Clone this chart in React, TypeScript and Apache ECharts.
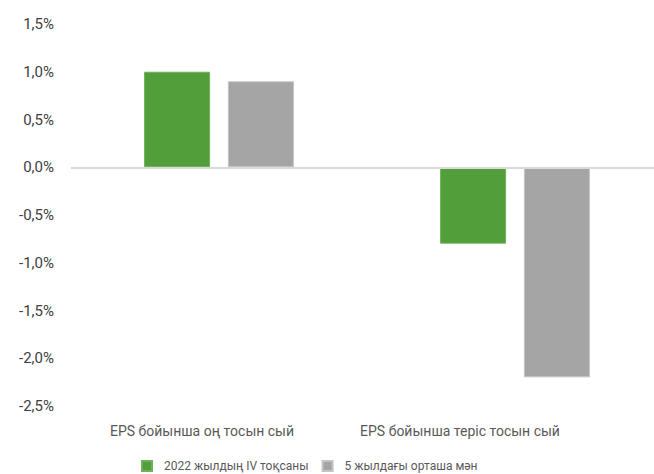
import React, { useEffect, useRef } from "react";
import * as echarts from "echarts";

const categories = ["EPS бойынша оң тосын сый", "EPS бойынша теріс тосын сый"];
const seriesNames = ["2022 жылдың IV тоқсаны", "5 жылдағы орташа мән"];
const q4Values = [1.0, -0.8];
const avgValues = [0.9, -2.2];

const FONT = "Roboto, 'Noto Sans', sans-serif";

export default function App() {
  const ref = useRef<HTMLDivElement>(null);

  useEffect(() => {
    if (!ref.current) return;
    const chart = echarts.init(ref.current, null, { renderer: "svg" });
    chart.setOption({
      animation: false,
      backgroundColor: "#ffffff",
      textStyle: { fontFamily: FONT },
      grid: [
        // plot area for the bars (runs a little past the visible right edge)
        { left: 71, top: 24, right: 0, height: 382, containLabel: false },
        // label band for the category names, set slightly left of the bars
        { left: 73, top: 24, width: 516, height: 382, containLabel: false },
      ],
      legend: {
        left: 141,
        top: 460,
        padding: 0,
        itemWidth: 10,
        itemHeight: 10,
        itemGap: 13,
        icon: "rect",
        textStyle: { fontSize: 12, color: "#595959", fontFamily: FONT, padding: [0, 0, 0, 7] },
        data: seriesNames,
      },
      xAxis: [
        {
          type: "category",
          gridIndex: 0,
          data: categories,
          axisLine: { show: false },
          axisTick: { show: false },
          axisLabel: { show: false },
        },
        {
          type: "category",
          gridIndex: 1,
          data: categories,
          position: "bottom",
          axisLine: { show: false },
          axisTick: { show: false },
          axisLabel: {
            interval: 0,
            fontSize: 14,
            color: "#595959",
            fontFamily: FONT,
            margin: 18,
          },
        },
      ],
      yAxis: [
        {
          type: "value",
          gridIndex: 0,
          min: -2.5,
          max: 1.5,
          interval: 0.5,
          splitLine: { show: false },
          axisLine: { show: false },
          axisTick: { show: false },
          axisLabel: {
            fontSize: 15,
            color: "#404040",
            fontFamily: FONT,
            margin: 17,
            formatter: (v: number) => v.toFixed(1).replace(".", ",") + "%",
          },
        },
        {
          type: "value",
          gridIndex: 1,
          min: -2.5,
          max: 1.5,
          interval: 0.5,
          show: false,
        },
      ],
      series: [
        {
          name: seriesNames[0],
          type: "bar",
          xAxisIndex: 0,
          yAxisIndex: 0,
          data: q4Values,
          barWidth: 66,
          barGap: "27%",
          itemStyle: { color: "#529E3A", borderColor: "#6DB25A", borderWidth: 1 },
          markLine: {
            silent: true,
            symbol: "none",
            label: { show: false },
            lineStyle: { color: "#D9D9D9", width: 2, type: "solid" },
            data: [{ yAxis: 0 }],
          },
        },
        {
          name: seriesNames[1],
          type: "bar",
          xAxisIndex: 0,
          yAxisIndex: 0,
          data: avgValues,
          barWidth: 66,
          barGap: "27%",
          itemStyle: { color: "#A5A5A5", borderColor: "#C4C4C4", borderWidth: 1 },
        },
      ],
    });
    return () => chart.dispose();
  }, []);

  return (
    <div style={{ position: "fixed", left: 0, top: 0, width: 654, height: 474, overflow: "hidden", background: "#fff" }}>
      <div ref={ref} style={{ width: 663, height: 474 }} />
    </div>
  );
}
